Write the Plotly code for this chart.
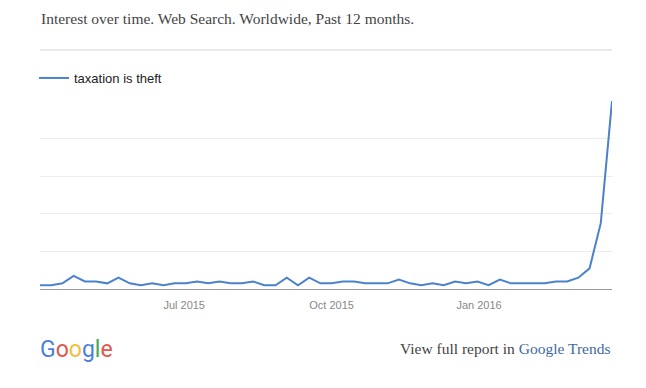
import pandas as pd
import plotly.graph_objects as go

# ---- data ----
series_name = "taxation is theft"
start_date = "2015-04-02"
n_weeks = 52
interest = [2, 2, 3, 7, 4, 4, 3, 6, 3, 2,
            3, 2, 3, 3, 4, 3, 4, 3, 3, 4,
            2, 2, 6, 2, 6, 3, 3, 4, 4, 3,
            3, 3, 5, 3, 2, 3, 2, 4, 3, 4,
            2, 5, 3, 3, 3, 3, 4, 4, 6, 11,
            35, 100]
tick_dates = ["2015-07-01", "2015-10-01", "2016-01-01"]
tick_labels = ["Jul 2015", "Oct 2015", "Jan 2016"]
y_ticks = [0, 20, 40, 60, 80, 100]

weeks = pd.date_range(start=start_date, periods=n_weeks, freq="7D")

W, H = 646, 388
L, R, T, B = 40, 612, 101, 289  # plot area in pixels


def px(x):
    return (x - L) / (R - L)


def py(y):
    return (B - y) / (B - T)


LINE = "#4a82cc"

fig = go.Figure()
fig.add_trace(go.Scatter(
    x=weeks, y=interest, mode="lines", name=series_name,
    line=dict(color=LINE, width=2),
    hoverinfo="x+y",
))

fig.update_layout(
    width=W, height=H,
    margin=dict(l=L, r=W - R, t=T, b=H - B, pad=0),
    paper_bgcolor="white", plot_bgcolor="white",
    showlegend=True,
    legend=dict(
        x=px(34), y=py(78), xanchor="left", yanchor="middle",
        font=dict(family="Liberation Sans, Arial, sans-serif", size=13, color="#222"),
        bgcolor="rgba(0,0,0,0)", borderwidth=0, itemwidth=30,
    ),
    xaxis=dict(
        range=[weeks[0], weeks[-1]],
        tickmode="array", tickvals=tick_dates, ticktext=tick_labels,
        showgrid=False, zeroline=False,
        showline=True, linecolor="#999", linewidth=1,
        ticks="", ticklabelstandoff=6,
        tickfont=dict(family="Liberation Sans, Arial, sans-serif", size=11, color="#888"),
    ),
    yaxis=dict(
        range=[0, 100], tickmode="array", tickvals=y_ticks,
        showticklabels=False, showgrid=True, gridcolor="#ececec", gridwidth=1,
        zeroline=False, showline=False,
    ),
    annotations=[
        dict(xref="paper", yref="paper", x=px(39), y=py(18), xanchor="left", yanchor="middle",
             text="Interest over time. Web Search. Worldwide, Past 12 months.", showarrow=False,
             font=dict(family="Liberation Serif, Times New Roman, serif", size=15.5, color="#444")),
        dict(xref="paper", yref="paper", x=px(38), y=py(349), xanchor="left", yanchor="middle",
             text=("<span style='color:#4a7fdc'>G</span><span style='color:#e0574b'>o</span>"
                   "<span style='color:#f2c041'>o</span><span style='color:#4a7fdc'>g</span>"
                   "<span style='color:#41a85c'>l</span><span style='color:#e0574b'>e</span>"),
             showarrow=False,
             font=dict(family="Roboto, Open Sans, sans-serif", size=23)),
        dict(xref="paper", yref="paper", x=px(612), y=py(348), xanchor="right", yanchor="middle",
             text="View full report in <span style='color:#3d6a9e'>Google Trends</span>",
             showarrow=False,
             font=dict(family="Liberation Serif, Times New Roman, serif", size=15.5, color="#444")),
    ],
    shapes=[
        dict(type="line", xref="paper", yref="paper", x0=px(40), x1=px(612), y0=py(50), y1=py(50),
             line=dict(color="#d4d4d4", width=1)),
    ],
)

fig.write_html("out.html", config={"displayModeBar": False},
               post_script="document.body.style.margin='0';")
